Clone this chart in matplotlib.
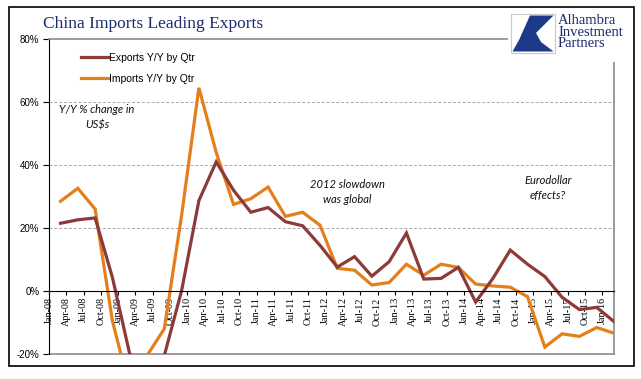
import numpy as np
import matplotlib.pyplot as plt
from matplotlib.patches import Rectangle, Polygon

# quarterly Y/Y % change (quarter ends Mar-08 .. Mar-16)
exports = [21.5, 22.6, 23.2, 4.3,
           -20.0, -23.5, -20.5, 0.1,
           28.7, 41.0, 32.0, 25.0,
           26.5, 22.0, 20.7, 14.5,
           7.6, 10.9, 4.7, 9.3,
           18.4, 3.8, 4.0, 7.5,
           -3.5, 4.0, 13.0, 8.5,
           4.6, -2.0, -5.9, -5.2,
           -9.7]
imports = [28.5, 32.6, 26.0, -9.5,
           -31.0, -20.5, -12.0, 24.0,
           64.5, 44.0, 27.5, 29.3,
           33.0, 23.7, 25.0, 20.9,
           7.2, 6.6, 1.9, 2.7,
           8.5, 5.0, 8.5, 7.5,
           2.2, 1.6, 1.2, -1.8,
           -17.8, -13.6, -14.4, -11.6,
           -13.4]
months = np.arange(len(exports)) * 3 + 2          # months since Jan-08
tick_pos = np.arange(0, 97, 3)
tick_labels = [f"{m}-{y:02d}" for y in range(8, 17) for m in ["Jan", "Apr", "Jul", "Oct"]][:len(tick_pos)]
yticks = [-20, 0, 20, 40, 60, 80]

W, H = 641, 379
fig = plt.figure(figsize=(W / 100, H / 100), dpi=100)
ax = fig.add_axes([49 / W, 1 - 354 / H, (614 - 49) / W, (354 - 39) / H])

brown = "#8c3a3a"
orange = "#e47f1c"
ax.plot(months, exports, color=brown, lw=2.3, label="Exports Y/Y by Qtr", zorder=4, solid_joinstyle="miter")
ax.plot(months, imports, color=orange, lw=2.3, label="Imports Y/Y by Qtr", zorder=3, solid_joinstyle="miter")

ax.set_xlim(0, 98)
ax.set_ylim(-20, 80)
for g in [20, 40, 60]:
    ax.axhline(g, color="#a8a8a8", lw=0.7, ls=(0, (3, 2)), zorder=1)
ax.axhline(-20, color="#8a8a8a", lw=1.2, zorder=2, clip_on=False)

ax.spines["bottom"].set_position(("data", 0))
ax.spines["bottom"].set_color("black")
ax.spines["bottom"].set_zorder(5)
ax.spines["left"].set_color("black")
for s in ["top", "right"]:
    ax.spines[s].set_color("#8a8a8a")
    ax.spines[s].set_linewidth(1.2)

ax.set_xticks(tick_pos)
ax.set_xticklabels(tick_labels, rotation=90, fontsize=7.3, family="Liberation Serif")
ax.tick_params(axis="x", direction="out", length=3, pad=1.5, width=0.8)
ax.set_yticks(yticks)
ax.set_yticklabels([f"{v}%" for v in yticks], fontsize=7, family="Liberation Sans")
ax.tick_params(axis="y", direction="out", length=4, pad=3, width=0.8)

ax.legend(loc="upper left", bbox_to_anchor=(0.04, 0.985), frameon=False,
          handlelength=2.7, handletextpad=0.0, labelspacing=1.05,
          prop={"family": "Liberation Sans", "size": 7.5})

it = dict(fontsize=8, family="Lato", style="italic", ha="center", va="center", color="#111111")
for (px, py, s) in [(97, 117, "Y/Y % change in\nUS$s"),
                    (347, 192, "2012 slowdown\nwas global"),
                    (548, 188, "Eurodollar\neffects?")]:
    fig.text(px / W, 1 - py / H, s, linespacing=1.5, **it)

# title
fig.text(43 / W, 1 - 24 / H, "China Imports Leading Exports", fontsize=12.5,
         family="Liberation Serif", color="#1c2a6e", va="center", ha="left")

# logo
lax = fig.add_axes([508 / W, 1 - 62 / H, (636 - 508) / W, (62 - 10) / H])
lax.set_xlim(508, 636)
lax.set_ylim(62, 10)
lax.axis("off")
lax.add_patch(Rectangle((508, 10), 128, 52, facecolor="white", edgecolor="none"))
lax.add_patch(Rectangle((511, 14), 44, 39, facecolor="white", edgecolor="#c8c8c8", lw=0.8))
lax.add_patch(Polygon([(530, 15.5), (553.5, 15.5), (536, 33), (541, 42), (553.5, 51.5),
                       (512.5, 51.5), (519, 40)], closed=True, facecolor="#1d3a8a", edgecolor="none"))
lax.text(558, 32, "Alhambra\nInvestment\nPartners", fontsize=10.5, family="Liberation Serif",
         color="#1c2a6e", va="center", ha="left", linespacing=0.85)

# outer frame
fig.add_artist(Rectangle((9 / W, 1 - 366 / H), (634 - 9) / W, (366 - 7) / H,
                         transform=fig.transFigure, fill=False, edgecolor="black", lw=1.2))

fig.savefig("out.png", dpi=100)
